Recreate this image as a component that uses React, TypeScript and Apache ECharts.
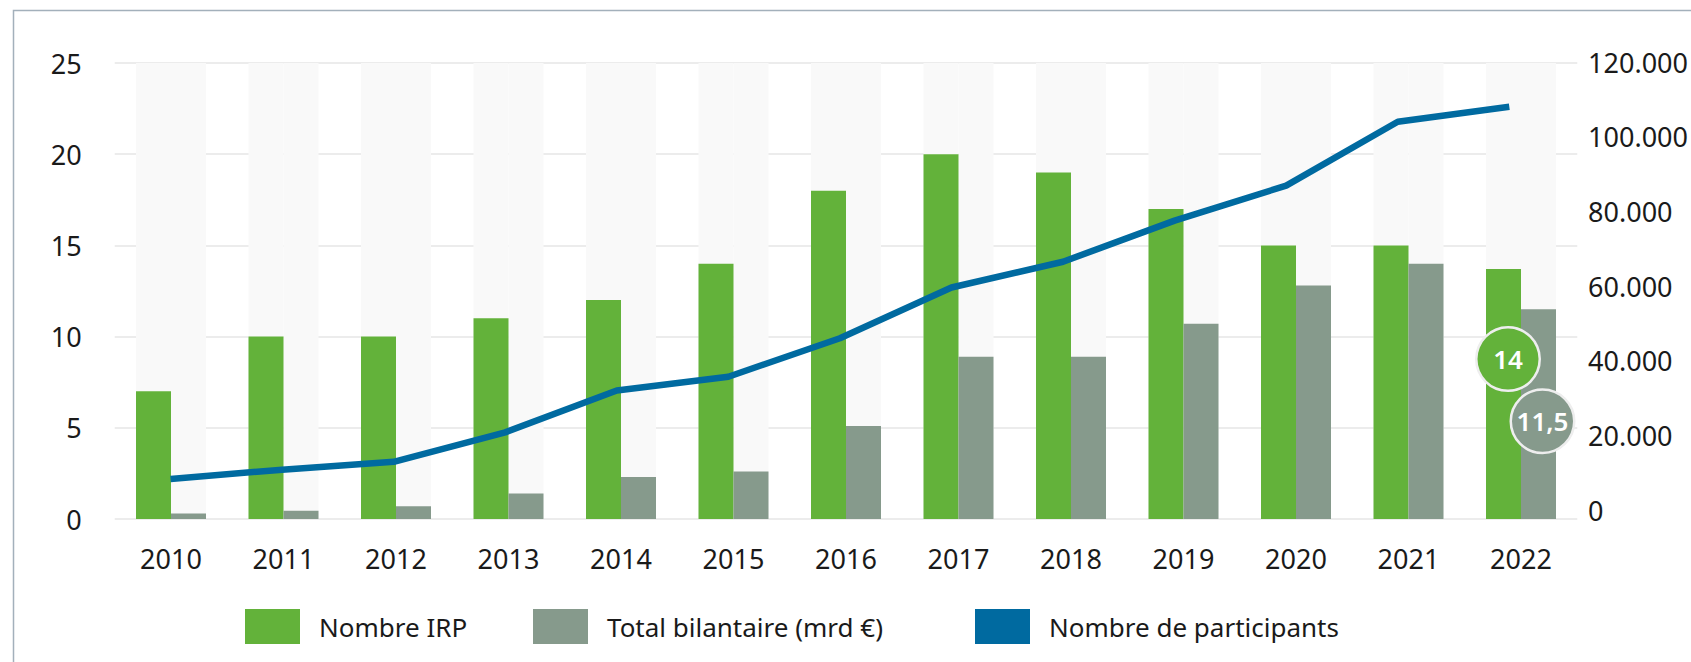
import React, { useEffect, useRef } from "react";
import * as echarts from "echarts";

const years = ["2010", "2011", "2012", "2013", "2014", "2015", "2016", "2017", "2018", "2019", "2020", "2021", "2022"];
const nombreIRP = [7, 10, 10, 11, 12, 14, 18, 20, 19, 17, 15, 15, 13.7];
const totalBilantaire = [0.3, 0.45, 0.7, 1.4, 2.3, 2.6, 5.1, 8.9, 8.9, 10.7, 12.8, 14, 11.5];
const participants = [8300, 10800, 12900, 20800, 32000, 35700, 46000, 59600, 66500, 77500, 86900, 104000, 108000];
const leftAxis = { min: 0, max: 25, interval: 5 };
const rightAxis = { min: 0, max: 120000, interval: 20000 };
const seriesNames = ["Nombre IRP", "Total bilantaire (mrd €)", "Nombre de participants"];

const GREEN = "#63b23a";
const GRAY = "#869a8c";
const BLUE = "#006aa0";
const FONT = "Noto Sans";
const TXT = "#1a1a1a";

const fmtThousands = (v: number) => String(Math.round(v)).replace(/\B(?=(\d{3})+(?!\d))/g, ".");
const fmtComma = (v: number) => String(v).replace(".", ",");

export default function App() {
  const ref = useRef<HTMLDivElement>(null);
  useEffect(() => {
    if (!ref.current) return;
    const chart = echarts.init(ref.current, undefined, { renderer: "svg" });
    const last = years.length - 1;
    const circle = (color: string) => ({
      show: true,
      backgroundColor: color,
      borderColor: "#eeeeee",
      borderWidth: 2.5,
      borderRadius: 33,
      width: 61,
      height: 61,
      lineHeight: 61,
      align: "center",
      verticalAlign: "middle",
      color: "#ffffff",
      fontSize: 26,
      fontWeight: 600,
      fontFamily: FONT,
    });
    const greenData = nombreIRP.map((v, i) =>
      i === last
        ? {
            value: v,
            label: {
              ...circle(GREEN),
              position: ["50%", 90],
              offset: [4.5, 0],
              formatter: () => String(Math.round(v)),
            },
          }
        : v
    );
    const grayData = totalBilantaire.map((v, i) =>
      i === last
        ? {
            value: v,
            label: {
              ...circle(GRAY),
              position: ["50%", 112],
              offset: [4, 0],
              formatter: () => fmtComma(v),
            },
          }
        : v
    );
    const legendCommon = {
      top: 609,
      padding: 0,
      itemWidth: 55,
      itemHeight: 35,
      icon: "rect",
      textStyle: { fontSize: 26, fontFamily: FONT, color: TXT, padding: [0, 0, 0, 14] },
      selectedMode: false,
    };
    chart.setOption({
      animation: false,
      textStyle: { fontFamily: FONT },
      graphic: [
        {
          type: "rect",
          silent: true,
          z: -10,
          shape: { x: 13.5, y: 10.5, width: 1720, height: 720 },
          style: { fill: "none", stroke: "#a3b0bb", lineWidth: 1.5 },
        },
      ],
      legend: [
        { ...legendCommon, left: 245, data: [seriesNames[0]] },
        { ...legendCommon, left: 533, data: [seriesNames[1]] },
        { ...legendCommon, left: 975, data: [seriesNames[2]] },
      ],
      grid: [
        { left: 114.75, width: 1462.5, top: 63, height: 456 },
        { left: 114.75, width: 1462.5, top: 62, height: 448 },
      ],
      xAxis: [
        {
          type: "category",
          gridIndex: 0,
          data: years,
          axisLine: { show: false },
          axisTick: { show: false },
          axisLabel: { fontSize: 27, color: TXT, fontFamily: FONT, margin: 26 },
        },
        {
          type: "category",
          gridIndex: 1,
          data: years,
          show: false,
        },
      ],
      yAxis: [
        {
          type: "value",
          gridIndex: 0,
          ...leftAxis,
          axisLine: { show: false },
          axisTick: { show: false },
          splitLine: { lineStyle: { color: "#ececec", width: 2 } },
          axisLabel: { fontSize: 27, color: TXT, fontFamily: FONT, margin: 33 },
        },
        {
          type: "value",
          gridIndex: 1,
          position: "right",
          ...rightAxis,
          axisLine: { show: false },
          axisTick: { show: false },
          splitLine: { show: false },
          axisLabel: {
            fontSize: 27,
            color: TXT,
            fontFamily: FONT,
            margin: 23,
            formatter: (v: number) => fmtThousands(v),
          },
        },
      ],
      series: [
        {
          name: seriesNames[0],
          type: "bar",
          xAxisIndex: 0,
          yAxisIndex: 0,
          data: greenData,
          barWidth: 35,
          barGap: "0%",
          itemStyle: { color: GREEN },
          showBackground: true,
          backgroundStyle: { color: "#f9f9f9" },
        },
        {
          name: seriesNames[1],
          type: "bar",
          xAxisIndex: 0,
          yAxisIndex: 0,
          data: grayData,
          barWidth: 35,
          barGap: "0%",
          itemStyle: { color: GRAY },
          showBackground: true,
          backgroundStyle: { color: "#f9f9f9" },
        },
        {
          name: seriesNames[2],
          type: "line",
          xAxisIndex: 1,
          yAxisIndex: 1,
          data: participants,
          symbol: "none",
          lineStyle: { color: BLUE, width: 6.5 },
          itemStyle: { color: BLUE },
          z: 3,
        },
      ],
    });
    return () => chart.dispose();
  }, []);
  return (
    <div
      ref={ref}
      style={{ position: "absolute", left: 0, top: 0, width: 1691, height: 662, background: "#ffffff" }}
    />
  );
}
